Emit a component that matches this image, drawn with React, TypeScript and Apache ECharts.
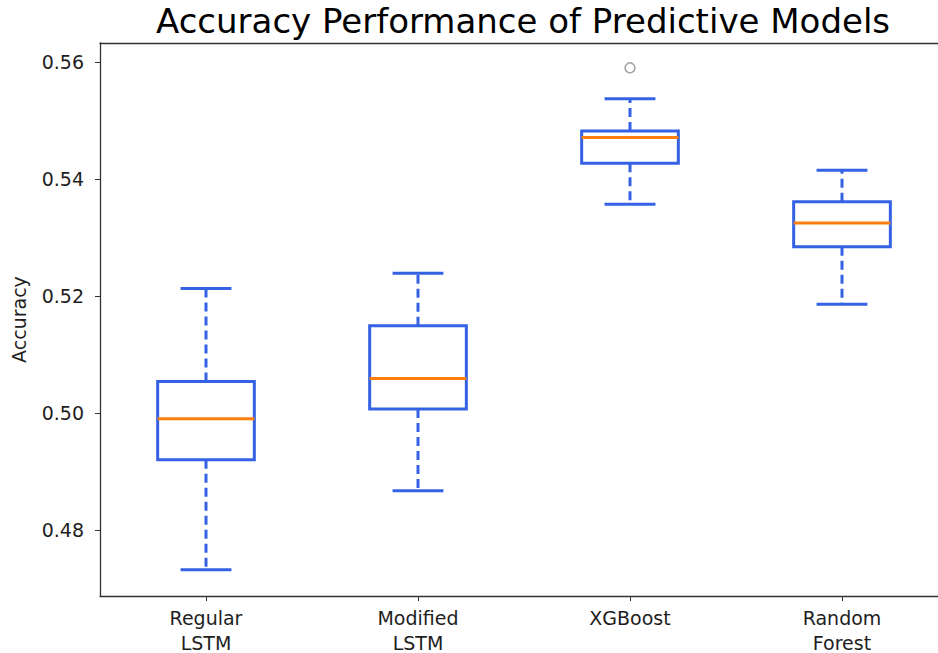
import React, { useEffect, useRef } from "react";
import * as echarts from "echarts";

const categories = ["Regular\nLSTM", "Modified\nLSTM", "XGBoost", "Random\nForest"];
// [lower whisker, Q1, median, Q3, upper whisker]
const lowerWhisker = [0.4732, 0.4867, 0.5357, 0.5186];
const q1 = [0.492, 0.5007, 0.5427, 0.5284];
const medians = [0.499, 0.5059, 0.5471, 0.5325];
const q3 = [0.5054, 0.5149, 0.5482, 0.5361];
const upperWhisker = [0.5213, 0.5239, 0.5537, 0.5415];
const outliers: [number, number][] = [[2, 0.559]];
const yTicks = [0.48, 0.5, 0.52, 0.54, 0.56];

const BLUE = "#3562E4";
const ORANGE = "#FF7F0E";
const FONT = "DejaVu Sans";
const TEXT = "#1e1e1e";

export default function App() {
  const ref = useRef<HTMLDivElement>(null);
  useEffect(() => {
    if (!ref.current) return;
    const chart = echarts.init(ref.current, null, { renderer: "svg" });
    const boxData = categories.map((_, i) => [
      i,
      lowerWhisker[i],
      q1[i],
      medians[i],
      q3[i],
      upperWhisker[i],
    ]);
    chart.setOption({
      animation: false,
      backgroundColor: "#ffffff",
      textStyle: { fontFamily: FONT },
      graphic: [
        {
          type: "text",
          x: 523,
          y: 4,
          style: {
            text: "Accuracy Performance of Predictive Models",
            fontFamily: FONT,
            fontSize: 34,
            fill: "#000",
            textAlign: "center",
          },
        },
      ],
      grid: {
        left: 100,
        top: 43,
        width: 848,
        height: 553,
        outerBoundsMode: "none",
        containLabel: false,
        show: false,
      },
      xAxis: [
        {
          type: "category",
          data: categories,
          boundaryGap: true,
          axisLine: { show: true, lineStyle: { color: "#333", width: 1.3 } },
          axisTick: { show: true, alignWithLabel: true, length: 5, lineStyle: { color: "#333" } },
          axisLabel: {
            color: TEXT,
            fontFamily: FONT,
            fontSize: 19,
            lineHeight: 25,
            margin: 9,
          },
          splitLine: { show: false },
        },
        {
          type: "category",
          data: categories,
          position: "top",
          boundaryGap: true,
          axisLine: { show: true, lineStyle: { color: "#333", width: 1.3 } },
          axisTick: { show: false },
          axisLabel: { show: false },
          splitLine: { show: false },
        },
      ],
      yAxis: {
        type: "value",
        min: 0.46872,
        max: 0.56325,
        name: "Accuracy",
        nameLocation: "middle",
        nameGap: 72,
        nameTextStyle: { color: TEXT, fontFamily: FONT, fontSize: 19 },
        axisLine: { show: true, lineStyle: { color: "#333", width: 1.3 } },
        axisTick: { show: true, length: 5, customValues: yTicks, lineStyle: { color: "#333" } },
        axisLabel: {
          customValues: yTicks,
          formatter: (v: number) => v.toFixed(2),
          color: TEXT,
          fontFamily: FONT,
          fontSize: 19,
          margin: 16,
        },
        splitLine: { show: false },
      },
      series: [
        {
          type: "custom",
          data: boxData,
          encode: { x: 0, y: [1, 2, 3, 4, 5] },
          renderItem: (params: any, api: any) => {
            const idx = api.value(0);
            const band = api.size([1, 0])[0];
            const half = band * 0.228;
            const capHalf = band * 0.12;
            const pLow = api.coord([idx, api.value(1)]);
            const pQ1 = api.coord([idx, api.value(2)]);
            const pMed = api.coord([idx, api.value(3)]);
            const pQ3 = api.coord([idx, api.value(4)]);
            const pHigh = api.coord([idx, api.value(5)]);
            const cx = pMed[0];
            const lw = 3;
            const solid = { stroke: BLUE, lineWidth: lw, fill: "none" };
            const dashed = { stroke: BLUE, lineWidth: lw, lineDash: [9, 5] };
            return {
              type: "group",
              children: [
                {
                  type: "line",
                  shape: { x1: cx, y1: pQ3[1], x2: cx, y2: pHigh[1] },
                  style: dashed,
                },
                {
                  type: "line",
                  shape: { x1: cx, y1: pQ1[1], x2: cx, y2: pLow[1] },
                  style: dashed,
                },
                {
                  type: "line",
                  shape: { x1: cx - capHalf, y1: pHigh[1], x2: cx + capHalf, y2: pHigh[1] },
                  style: solid,
                },
                {
                  type: "line",
                  shape: { x1: cx - capHalf, y1: pLow[1], x2: cx + capHalf, y2: pLow[1] },
                  style: solid,
                },
                {
                  type: "rect",
                  shape: { x: cx - half, y: pQ3[1], width: half * 2, height: pQ1[1] - pQ3[1] },
                  style: { stroke: BLUE, lineWidth: lw, fill: "none" },
                },
                {
                  type: "line",
                  shape: { x1: cx - half, y1: pMed[1], x2: cx + half, y2: pMed[1] },
                  style: { stroke: ORANGE, lineWidth: lw },
                },
              ],
            };
          },
        },
        {
          type: "scatter",
          data: outliers,
          symbol: "circle",
          symbolSize: 10,
          itemStyle: { color: "#ffffff", borderColor: "#8a8a8a", borderWidth: 1.5 },
        },
      ],
    });
    return () => chart.dispose();
  }, []);
  return (
    <div
      ref={ref}
      style={{ position: "fixed", left: 0, top: 0, width: 938, height: 653, background: "#fff" }}
    />
  );
}
